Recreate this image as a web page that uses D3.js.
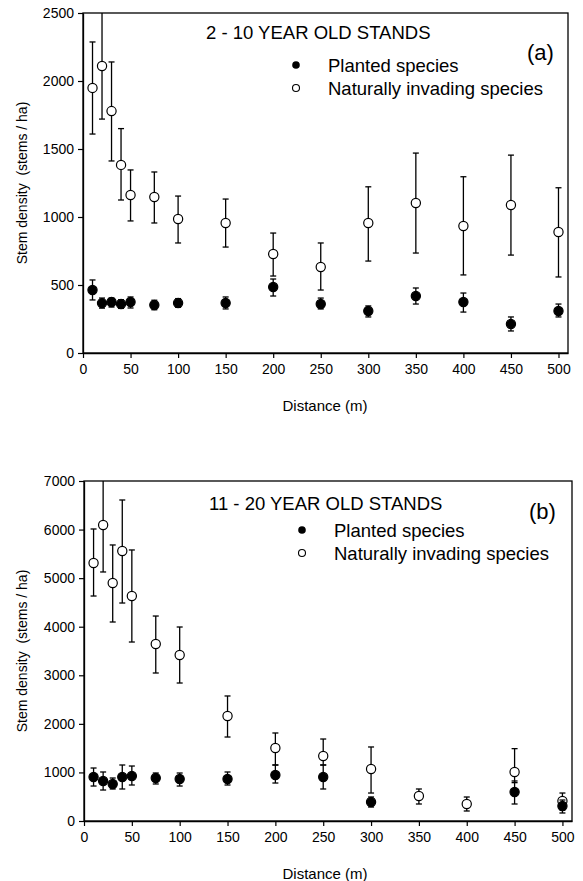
<!DOCTYPE html>
<html>
<head>
<meta charset="utf-8">
<script src="https://cdn.jsdelivr.net/npm/d3@7"></script>
<style>
body { margin: 0; background: #fff; }
text { font-family: Arial, "Liberation Sans", sans-serif; fill: #000; }
</style>
</head>
<body>
<svg class="chart"></svg>
<script>
// distances (m)
var distance = [10, 20, 30, 40, 50, 75, 100, 150, 200, 250, 300, 350, 400, 450, 500]
var xTicks = [0, 50, 100, 150, 200, 250, 300, 350, 400, 450, 500]

// (a) 2 - 10 year old stands
var plantedA    = [463, 367, 375, 360, 375, 353, 368, 368, 485, 360, 309, 419, 375, 213, 309]
var plantedAHi  = [537, 404, 404, 392, 412, 388, 400, 412, 544, 404, 346, 478, 441, 265, 360]
var plantedALo  = [390, 330, 338, 328, 331, 318, 336, 324, 419, 324, 265, 360, 301, 162, 265]
var invadingA   = [1949, 2110, 1779, 1383, 1162, 1147, 985, 956, 728, 632, 956, 1103, 934, 1088, 890]
var invadingAHi = [2287, 2560, 2140, 1650, 1346, 1331, 1154, 1132, 882, 809, 1222, 1470, 1296, 1455, 1215]
var invadingALo = [1610, 1720, 1412, 1125, 971, 956, 809, 779, 566, 463, 676, 735, 574, 720, 559]
var yTicksA = [0, 500, 1000, 1500, 2000, 2500]

// (b) 11 - 20 year old stands (no planted value visible at 350 and 400 m)
var plantedB    = [906, 824, 762, 906, 926, 885, 865, 865, 947, 906, 391, null, null, 597, 309]
var plantedBHi  = [1091, 1009, 885, 1153, 1132, 988, 988, 1009, 1153, 1153, 494, null, null, 824, 432]
var plantedBLo  = [720, 638, 659, 659, 741, 762, 720, 741, 782, 659, 288, null, null, 350, 165]
var invadingB   = [5312, 6094, 4900, 5559, 4632, 3644, 3418, 2162, 1503, 1338, 1071, 515, 350, 1009, 412]
var invadingBHi = [6012, 7300, 5683, 6609, 5580, 4220, 3994, 2574, 1812, 1688, 1524, 659, 494, 1490, 576]
var invadingBLo = [4632, 5127, 4097, 4488, 3685, 3047, 2841, 1729, 1153, 1153, 576, 350, 206, 790, 226]
var yTicksB = [0, 1000, 2000, 3000, 4000, 5000, 6000, 7000]

var width = 583;
var height = 881;
var svg = d3.select(".chart").attr("width", width).attr("height", height)

function panel(o) {
  var x = d3.scaleLinear().domain([0, 510]).range([o.left, o.right]);
  var y = d3.scaleLinear().domain([0, o.yMax]).range([o.bottom, o.top]);
  var g = svg.append("g");

  g.append("clipPath").attr("id", o.id)
    .append("rect")
    .attr("x", o.left).attr("y", o.top)
    .attr("width", o.right - o.left).attr("height", o.bottom - o.top);

  // frame
  g.append("rect")
    .attr("x", o.left).attr("y", o.top)
    .attr("width", o.right - o.left).attr("height", o.bottom - o.top)
    .attr("fill", "none").attr("stroke", "#000").attr("stroke-width", 1.3);

  var xa = g.append("g")
    .attr("transform", "translate(0," + o.bottom + ")")
    .call(d3.axisBottom(x).tickValues(xTicks).tickFormat(d3.format("d"))
      .tickSize(5).tickSizeOuter(0).tickPadding(6));
  var ya = g.append("g")
    .attr("transform", "translate(" + o.left + ",0)")
    .call(d3.axisLeft(y).tickValues(o.yTicks).tickFormat(d3.format("d"))
      .tickSize(5).tickSizeOuter(0).tickPadding(4));
  [xa, ya].forEach(function(a) {
    a.select(".domain").attr("stroke-width", 1.3);
    a.selectAll(".tick line").attr("stroke-width", 1.2);
    a.selectAll("text").attr("font-size", 14).attr("font-family", "Arial, 'Liberation Sans', sans-serif");
  });

  var marks = g.append("g").attr("clip-path", "url(#" + o.id + ")");
  function series(vals, hi, lo, fill) {
    var pts = distance.map(function(d, i) { return {d: d, v: vals[i], hi: hi[i], lo: lo[i]}; })
      .filter(function(p) { return p.v != null; });
    var eb = marks.append("g").attr("stroke", "#000").attr("stroke-width", 1.3);
    pts.forEach(function(p) {
      eb.append("line").attr("x1", x(p.d)).attr("x2", x(p.d)).attr("y1", y(p.hi)).attr("y2", y(p.lo));
      eb.append("line").attr("x1", x(p.d) - 3).attr("x2", x(p.d) + 3).attr("y1", y(p.hi)).attr("y2", y(p.hi));
      eb.append("line").attr("x1", x(p.d) - 3).attr("x2", x(p.d) + 3).attr("y1", y(p.lo)).attr("y2", y(p.lo));
    });
    marks.append("g").selectAll("circle").data(pts).join("circle")
      .attr("cx", function(p) { return x(p.d); })
      .attr("cy", function(p) { return y(p.v); })
      .attr("r", 4.6)
      .attr("fill", fill).attr("stroke", "#000").attr("stroke-width", 1.2);
  }
  series(o.invading, o.invadingHi, o.invadingLo, "#fff");
  series(o.planted, o.plantedHi, o.plantedLo, "#000");

  g.append("text").attr("x", o.titleX).attr("y", o.titleY)
    .attr("font-size", 18.5).text(o.title);
  g.append("text").attr("x", o.tagX).attr("y", o.tagY)
    .attr("font-size", 22).text(o.tag);

  g.append("circle").attr("cx", o.legX).attr("cy", o.legY).attr("r", 3.8).attr("fill", "#000");
  g.append("circle").attr("cx", o.legX).attr("cy", o.legY + 23).attr("r", 3.5)
    .attr("fill", "#fff").attr("stroke", "#000").attr("stroke-width", 1.1);
  g.append("text").attr("x", o.legX + 32).attr("y", o.legY + 7).attr("font-size", 18.5).text("Planted species");
  g.append("text").attr("x", o.legX + 32).attr("y", o.legY + 30).attr("font-size", 18.5).text("Naturally invading species");

  g.append("text").attr("x", 325).attr("y", o.bottom + 58)
    .attr("text-anchor", "middle").attr("font-size", 15).text("Distance (m)");
  g.append("text")
    .attr("transform", "translate(27," + ((o.top + o.bottom) / 2) + ") rotate(-90)")
    .attr("text-anchor", "middle").attr("font-size", 14)
    .attr("xml:space", "preserve")
    .text("Stem density  (stems / ha)");
}

panel({
  id: "clipA", left: 83, right: 568, top: 13, bottom: 353, yMax: 2500, yTicks: yTicksA,
  planted: plantedA, plantedHi: plantedAHi, plantedLo: plantedALo,
  invading: invadingA, invadingHi: invadingAHi, invadingLo: invadingALo,
  title: "2 - 10 YEAR OLD STANDS", titleX: 206, titleY: 39,
  tag: "(a)", tagX: 527, tagY: 60, legX: 296, legY: 65
});

panel({
  id: "clipB", left: 84, right: 572, top: 481, bottom: 821, yMax: 7000, yTicks: yTicksB,
  planted: plantedB, plantedHi: plantedBHi, plantedLo: plantedBLo,
  invading: invadingB, invadingHi: invadingBHi, invadingLo: invadingBLo,
  title: "11 - 20 YEAR OLD STANDS", titleX: 209, titleY: 510,
  tag: "(b)", tagX: 529, tagY: 519, legX: 302, legY: 530
});
</script>
</body>
</html>
